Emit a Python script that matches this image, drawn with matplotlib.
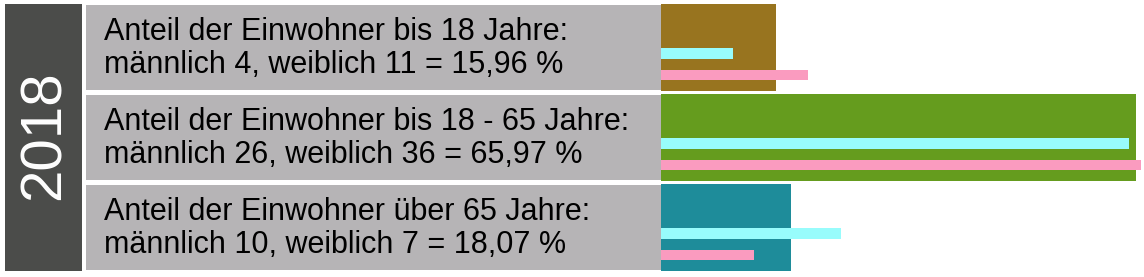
import matplotlib.pyplot as plt
import numpy as np

plt.rcParams['font.family'] = ['Liberation Sans', 'DejaVu Sans']

year = "2018"
labels = ["Anteil der Einwohner bis 18 Jahre:\nmännlich 4, weiblich 11 = 15,96 %",
          "Anteil der Einwohner bis 18 - 65 Jahre:\nmännlich 26, weiblich 36 = 65,97 %",
          "Anteil der Einwohner über 65 Jahre:\nmännlich 10, weiblich 7 = 18,07 %"]
total_pct = [15.96, 65.97, 18.07]
male_pct = [10.0, 65.0, 25.0]      # share of all males
female_pct = [20.37, 66.67, 12.96]  # share of all females
row_colors = ['#98741f', '#659c1e', '#1e8c9a']

W, H = 1144, 277
fig = plt.figure(figsize=(W / 100, H / 100), dpi=100)

y = np.arange(len(labels))
ylim = (2.55, -0.528)

# year box
ax_year = fig.add_axes([5 / W, 0, 77 / W, 1])
ax_year.set_xlim(0, 1)
ax_year.set_ylim(*ylim)
ax_year.barh([1], [1], height=2.967, color='#4b4c4a')
ax_year.text(0.52, 0.97, year, rotation=90, ha='center', va='center',
             color='white', fontsize=42)
ax_year.axis('off')

# grey label panel
ax_lab = fig.add_axes([86 / W, 0, (661 - 86) / W, 1])
ax_lab.set_xlim(0, 1)
ax_lab.set_ylim(*ylim)
ax_lab.barh(y, [1] * len(y), height=0.955, color='#b6b4b6')
for yi, lab in zip(y, labels):
    ax_lab.text(18 / 575, yi + 0.01, lab, ha='left', va='center',
                fontsize=22, color='black', linespacing=1.12)
ax_lab.axis('off')

# bars
ax = fig.add_axes([661 / W, 0, (W - 661) / W, 1])
ax.set_xlim(0, (W - 661) / 7.2)
ax.set_ylim(*ylim)
ax.barh(y, total_pct, height=0.967, color=row_colors)
ax.barh(y + 0.064, male_pct, height=0.118, color='#98fcfc')
ax.barh(y + 0.303, female_pct, height=0.117, color='#fa9bbf')
ax.axis('off')

fig.savefig('out.png', dpi=100)
